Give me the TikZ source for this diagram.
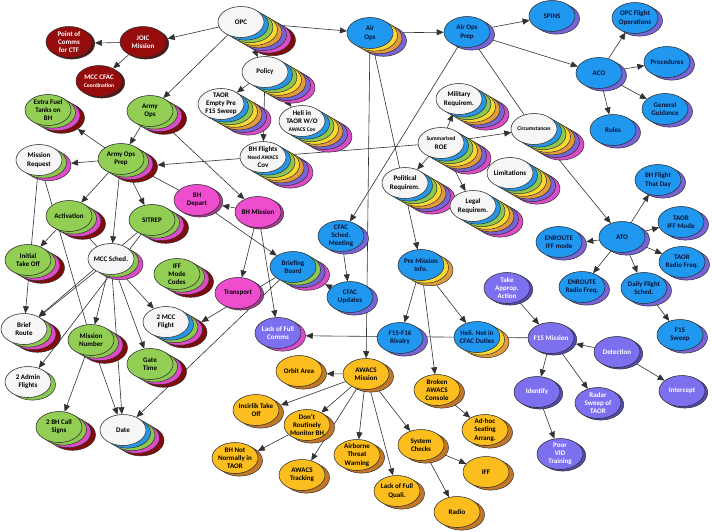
\documentclass[tikz,border=0pt]{standalone}
\usepackage{fontspec}
\setmainfont{Carlito}
\usetikzlibrary{shapes.geometric,arrows.meta}
\pgfdeclarelayer{paper}\pgfdeclarelayer{bg}
\pgfsetlayers{paper,bg,main}
\definecolor{edgec}{RGB}{45,45,45}
\definecolor{linec}{RGB}{50,50,50}
\definecolor{cblue}{RGB}{32,152,240}
\definecolor{navy}{RGB}{10,20,55}
\definecolor{cpurp}{RGB}{125,112,238}
\definecolor{cgreen}{RGB}{146,206,84}
\definecolor{cmag}{RGB}{238,78,206}
\definecolor{cdred}{RGB}{150,12,12}
\definecolor{corange}{RGB}{252,190,30}
\definecolor{cwhite}{RGB}{246,246,246}
\definecolor{rblue}{RGB}{40,150,230}
\definecolor{rgreen}{RGB}{140,200,80}
\definecolor{ryellow}{RGB}{250,215,50}
\definecolor{rorange}{RGB}{225,155,60}
\definecolor{rpurple}{RGB}{120,100,215}
\definecolor{rpink}{RGB}{220,75,200}
\definecolor{rdred}{RGB}{130,10,10}
\definecolor{rbrown}{RGB}{195,120,40}
\definecolor{mshadow}{RGB}{170,60,150}
\definecolor{dshadow}{RGB}{90,20,20}
\definecolor{pshadow}{RGB}{85,75,180}
\def\stR{7/rdred,6/rpink,5/rpurple,4/rorange,3/ryellow,2/rgreen,1/rblue}
\def\stS{6/rpink,5/rpurple,4/rorange,3/ryellow,2/rgreen,1/rblue}
\def\stG{3/rdred,2/rpink,1/rgreen}
\def\stB{1/rpurple}
\def\stO{1/rbrown}
\def\shD{0.6/dshadow}
\def\shM{0.6/mshadow}
\def\shP{0.6/pshadow}
\tikzset{
 front/.style={ellipse, draw=edgec, line width=0.55pt, inner sep=0pt, minimum width=46pt, minimum height=31pt},
 lay/.style={ellipse, draw=edgec, line width=0.5pt, inner sep=0pt, minimum width=46pt, minimum height=31pt},
 txt/.style={inner sep=0pt, align=center, font=\fontsize{7}{8.2}\selectfont\bfseries},
 kw/.style={fill=cwhite}, kwt/.style={text=black},
 kb/.style={fill=cblue}, kbt/.style={text=navy},
 kg/.style={fill=cgreen}, kgt/.style={text=black},
 km/.style={fill=cmag}, kmt/.style={text=black},
 kr/.style={fill=cdred}, krt/.style={text=white},
 kp/.style={fill=cpurp}, kpt/.style={text=white},
 ko/.style={fill=corange}, kot/.style={text=black},
 arr/.style={draw=linec, line width=0.6pt, -{Triangle[length=7pt,width=6pt]}},
 ln/.style={draw=linec, line width=0.6pt},
}
\newcommand\sm[1]{{\fontsize{5.6}{6.6}\selectfont #1}}
\newcommand\nd[6][]{%
  \edef\ndlist{#5}%
  \foreach \ndi/\ndc [count=\ndn] in \ndlist {\node[lay,fill=\ndc,#1,xshift=\ndi*4.5pt,yshift=-\ndi*2.6pt] (#2-\ndn) at #3 {};}%
  \node[front,#4,#1] (#2) at #3 {};%
  \node[txt,#4t] (#2-t) at (#2) {#6};%
}
\begin{document}
\begin{tikzpicture}[x=1pt,y=-1pt]
\useasboundingbox (0,0) rectangle (712,531);
\begin{pgfonlayer}{paper}
\fill[white] (0,0) rectangle (712,531);
\end{pgfonlayer}
% dark red
\nd{joic}{(143,42)}{kr}{\shD}{JOIC\\Mission}
\nd{poc}{(69,42)}{kr}{\shD}{Point of\\Comms\\for CTF}
\nd{mcccfac}{(99,81)}{kr}{\shD}{MCC CFAC\\\sm{Coordination}}
% top
\nd{opc}{(241,22)}{kw}{\stR}{OPC}
\nd{policy}{(265,72)}{kw}{\stS}{Policy}
\nd{airops}{(370,33)}{kb}{3/rpurple,2/rorange,1/ryellow}{Air\\Ops}
\nd{aoprep}{(467,32)}{kb}{\stB}{Air Ops\\Prep}
\nd{spins}{(552,16)}{kb}{\stB}{SPINS}
\nd{opcfo}{(635,18)}{kb}{\stB}{OPC Flight\\Operations}
\nd{aco}{(599,73)}{kb}{\stB}{ACO}
\nd{proc}{(667,62)}{kb}{\stB}{Procedures}
\nd{gg}{(665,109)}{kb}{\stB}{General\\Guidance}
\nd{rules}{(613,130)}{kb}{\stB}{Rules}
% white rainbow
\nd{taor}{(221,104)}{kw}{\stS}{TAOR\\Empty Pre\\F15 Sweep}
\nd{heli}{(302,121)}{kw}{\stS}{Heli in\\TAOR W/O\\\sm{AWACS Cov}}
\nd{bhfl}{(263,157)}{kw}{\stS}{BH Flights\\\sm{Need AWACS}\\Cov}
\nd{mil}{(459,99)}{kw}{\stS}{Military\\Requirem.}
\nd{roe}{(441,143)}{kw}{\stS}{\sm{Summarised}\\ROE}
\nd{circ}{(534,129)}{kw}{\stS}{\sm{Circumstances}}
\nd{lim}{(510,173)}{kw}{\stS}{Limitations}
\nd{pol}{(405,183)}{kw}{\stS}{Political\\Requirem.}
\nd{legal}{(473,206)}{kw}{\stS}{Legal\\Requirem.}
% army
\nd{armyops}{(150,111)}{kg}{\stG}{Army\\Ops}
\nd{extra}{(48,110)}{kg}{\stG}{Extra Fuel\\Tanks on\\BH}
\nd{armyprep}{(121,159)}{kg}{\stG}{Army Ops\\Prep}
\nd{mreq}{(39,160)}{kw}{2/rpink,1/rgreen}{Mission\\Request}
\nd{activ}{(69,216)}{kg}{\stG}{Activation}
\nd{sitrep}{(152,220)}{kg}{\stG}{SITREP}
\nd{init}{(28,260)}{kg}{\stG}{Initial\\Take Off}
\nd{mccs}{(111,259)}{kw}{2/rpink,1/rgreen}{MCC Sched.}
\nd{iffm}{(177,274)}{kg}{\stG}{IFF\\Mode\\Codes}
\nd{broute}{(24,329)}{kw}{\stG}{Brief\\Route}
\nd{misnum}{(91,340)}{kg}{\stG}{Mission\\Number}
\nd{mccf}{(166,322)}{kw}{4/rdred,3/rpink,2/rgreen,1/rblue}{2 MCC\\Flight}
\nd{gate}{(150,364)}{kg}{\stG}{Gate\\Time}
\nd{admin}{(28,382)}{kw}{1/rgreen}{2 Admin\\Flights}
\nd{bhcall}{(59,427)}{kg}{\stG}{2 BH Call\\Signs}
\nd{date}{(123,430)}{kw}{4/rdred,3/rpink,2/rgreen,1/rblue}{Date}
% magenta
\nd{bhdep}{(197,200)}{km}{\shM}{BH\\Depart}
\nd{bhmis}{(258,212)}{km}{\shM}{BH Mission}
\nd{transp}{(238,293)}{km}{\shM}{Transport}
% blue middle
\nd{cfacsm}{(341,236)}{kb}{\stB}{CFAC\\Sched.\\Meeting}
\nd{brief}{(293,267)}{kb}{3/rpink,2/rpurple,1/rgreen}{Briefing\\Board}
\nd{cfacup}{(350,297)}{kb}{\stB}{CFAC\\Updates}
\nd{premis}{(421,265)}{kb}{2/rorange,1/ryellow}{Pre Mission\\Info.}
\nd{rival}{(400,338)}{kb}{\stB}{F15-F16\\Rivalry}
\nd{helinot}{(477,337)}{kb}{2/rorange,1/ryellow}{Heli. Not in\\CFAC Duties}
% ATO
\nd{bhfday}{(658,180)}{kb}{\stB}{BH Flight\\That Day}
\nd{taoriff}{(681,222)}{kb}{\stB}{TAOR\\IFF Mode}
\nd{ato}{(622,237)}{kb}{\stB}{ATO}
\nd{eniff}{(559,242)}{kb}{\stB}{ENROUTE\\IFF mode}
\nd{taorrad}{(682,262)}{kb}{\stB}{TAOR\\Radio Freq.}
\nd{enrad}{(582,287)}{kb}{\stB}{ENROUTE\\Radio Freq.}
\nd{daily}{(644,288)}{kb}{\stB}{Daily Flight\\Sched.}
\nd{f15sw}{(680,335)}{kb}{\stB}{F15\\Sweep}
% purple
\nd{lfc}{(278,333)}{kp}{1/rpink}{Lack of Full\\Comms}
\nd{take}{(507,288)}{kp}{\shP}{Take\\Approp.\\Action}
\nd{f15m}{(551,338)}{kp}{\shP}{F15 Mission}
\nd{detect}{(617,352)}{kp}{\shP}{Detection}
\nd{ident}{(537,392)}{kp}{\shP}{Identify}
\nd{radar}{(598,403)}{kp}{\shP}{Radar\\Sweep of\\TAOR}
\nd{inter}{(682,391)}{kp}{\shP}{Intercept}
\nd{poor}{(560,454)}{kp}{\shP}{Poor\\VID\\Training}
% orange
\nd{awm}{(366,374)}{ko}{\stO}{AWACS\\Mission}
\nd{orbit}{(299,371)}{ko}{\stO}{Orbit Area}
\nd{broken}{(437,390)}{ko}{\stO}{Broken\\AWACS\\Console}
\nd{incir}{(256,410)}{ko}{\stO}{Incirlik Take\\Off}
\nd{dont}{(307,425)}{ko}{\stO}{Don’t\\Routinely\\Monitor BH}
\nd{adhoc}{(485,430)}{ko}{\stO}{Ad-hoc\\Seating\\Arrang.}
\nd{bhnot}{(235,458)}{ko}{\stO}{BH Not\\Normally in\\TAOR}
\nd{airb}{(357,455)}{ko}{\stO}{Airborne\\Threat\\Warning}
\nd{sysc}{(421,445)}{ko}{\stO}{System\\Checks}
\nd{track}{(302,475)}{ko}{\stO}{AWACS\\Tracking}
\nd{iff}{(486,472)}{ko}{\stO}{IFF}
\nd{lfq}{(397,491)}{ko}{\stO}{Lack of Full\\Quali.}
\nd{radio}{(457,512)}{ko}{\stO}{Radio}
% edges
\begin{pgfonlayer}{bg}
\draw[arr] (opc) -- (joic-1);
\draw[arr] (joic) -- (poc-1);
\draw[arr] (joic) -- (mcccfac);
\draw[arr] (opc) -- (armyops);
\draw[arr] (opc) -- (policy);
\draw[arr] (opc) -- (airops);
\draw[arr] (airops) -- (aoprep);
\draw[arr] (aoprep) -- (spins);
\draw[arr] (aoprep) -- (aco);
\draw[arr] (aco) -- (opcfo);
\draw[arr] (aco) -- (proc);
\draw[arr] (aco) -- (gg);
\draw[arr] (aco) -- (rules);
\draw[arr] (policy) -- (taor);
\draw[arr] (policy) -- (heli);
\draw[arr] (policy) -- (bhfl);
\draw[arr] (roe) -- (armyprep-1);
\draw[arr] (armyops) -- (armyprep);
\draw[arr] (armyops) -- (bhmis);
\draw[arr] (armyprep) -- (extra-1);
\draw[arr] (armyprep) -- (mreq-1);
\draw[arr] (armyprep) -- (activ);
\draw[arr] (armyprep) -- (mccs);
\draw[arr] (armyprep) -- (sitrep);
\draw[ln] (armyprep) -- (bhdep);
\draw[arr] (bhmis) -- (bhdep-1);
\draw[arr] (bhmis) -- (transp);
\draw[arr] (bhmis) -- (lfc);
\draw[arr] (bhdep) -- (brief);
\draw[arr] (brief) -- (mccf-1);
\draw[arr] (brief) -- (date);
\draw[arr] (cfacup) -- (brief-1);
\draw[arr] (cfacsm) -- (cfacup);
\draw[arr] (aoprep) -- (cfacsm);
\draw[ln] (aoprep) -- (circ);
\draw[arr] (circ) -- (ato);
\draw[arr] (airops) -- (premis);
\draw[arr] (airops) -- (awm);
\draw[arr] (roe) -- (mil);
\draw[arr] (roe) -- (circ);
\draw[arr] (roe) -- (lim);
\draw[arr] (roe) -- (pol);
\draw[arr] (roe) -- (legal);
\draw[arr] (premis) -- (rival);
\draw[arr] (premis) -- (helinot);
\draw[arr] (premis) -- (broken);
\draw[arr] (f15m) -- (lfc-1);
\draw[arr] (take) -- (f15m);
\draw[arr] (detect) -- (f15m-1);
\draw[arr] (detect) -- (inter);
\draw[arr] (f15m) -- (ident);
\draw[arr] (f15m) -- (radar);
\draw[arr] (ident) -- (poor);
\draw[arr] (ato) -- (bhfday);
\draw[arr] (ato) -- (taoriff);
\draw[arr] (ato) -- (eniff-1);
\draw[arr] (ato) -- (taorrad);
\draw[arr] (ato) -- (enrad);
\draw[arr] (ato) -- (daily);
\draw[arr] (daily) -- (f15sw);
\draw[arr] (awm) -- (orbit-1);
\draw[arr] (awm) -- (incir-1);
\draw[arr] (awm) -- (dont);
\draw[arr] (awm) -- (track);
\draw[arr] (awm) -- (airb);
\draw[arr] (awm) -- (lfq);
\draw[arr] (awm) -- (sysc);
\draw[arr] (dont) -- (bhnot-1);
\draw[arr] (sysc) -- (iff);
\draw[arr] (sysc) -- (radio);
\draw[arr] (broken) -- (adhoc);
\draw[arr] (mreq) -- (broute);
\draw[ln] (mreq) -- (misnum);
\draw[arr] (activ) -- (init);
\draw[arr] (activ) -- (mccf);
\draw[arr] (mccs) -- (broute);
\draw[arr] (sitrep) -- (broute);
\draw[arr] (sitrep) -- (admin);
\draw[arr] (mccs) -- (misnum);
\draw[arr] (mccs) -- (date);
\draw[arr] (mccs) -- (gate);
\draw[arr] (misnum) -- (bhcall);
\draw[arr] (misnum) -- (date);
\end{pgfonlayer}
\end{tikzpicture}
\end{document}
